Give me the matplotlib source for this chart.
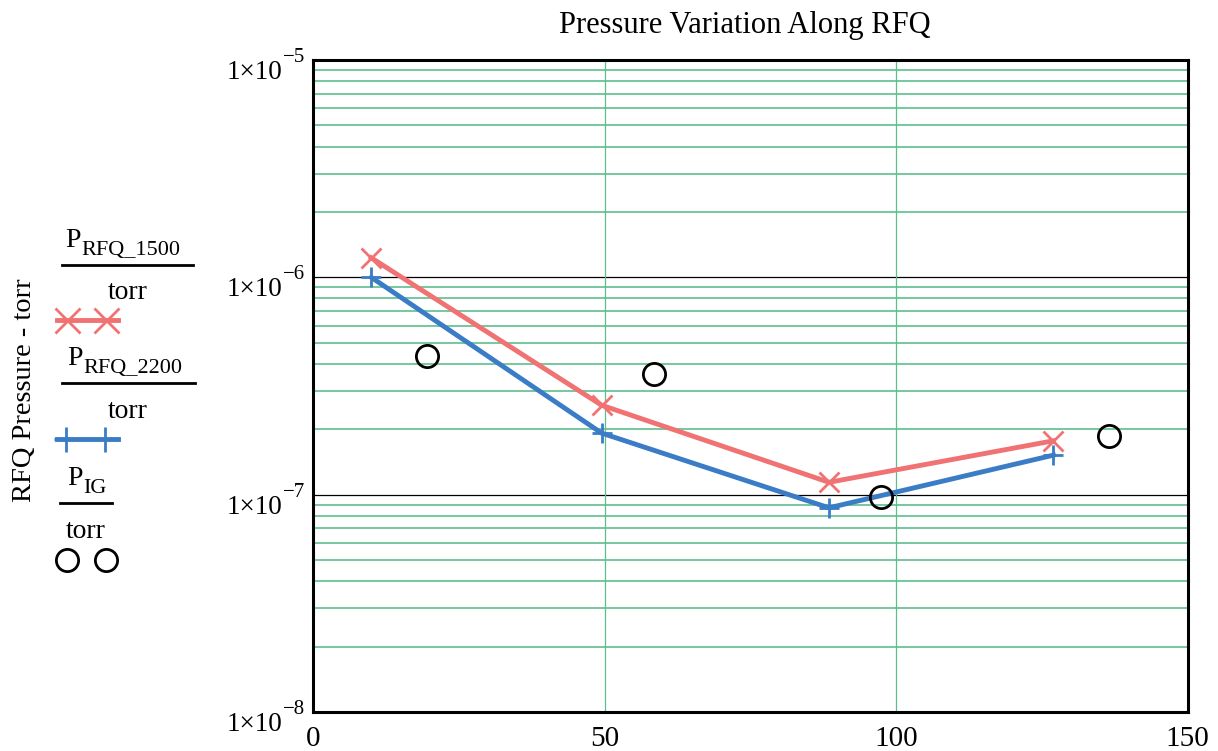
import numpy as np
import matplotlib
matplotlib.use('Agg')
import matplotlib.pyplot as plt
import matplotlib.transforms as mtransforms
from matplotlib.lines import Line2D
from matplotlib.ticker import FixedLocator, NullFormatter

plt.rcParams['font.family'] = 'Liberation Serif'

# datos
x_rfq = [10, 49.5, 88.5, 127]
p_1500 = [1.23e-6, 2.58e-7, 1.14e-7, 1.77e-7]
p_2200 = [1.0e-6, 1.92e-7, 8.7e-8, 1.52e-7]
x_ig = [19.5, 58.5, 97.5, 136.5]
p_ig = [4.35e-7, 3.6e-7, 9.8e-8, 1.86e-7]

x_ticks = [0, 50, 100, 150]
y_decades = [1e-8, 1e-7, 1e-6, 1e-5]

RED = '#f07272'
BLUE = '#3a7cc6'
GREEN = '#5dbf8c'

W, H = 1218, 751
fig = plt.figure(figsize=(W / 100, H / 100), dpi=100)
ax = fig.add_axes([0.257, 0.052, 0.718, 0.868])

ax.set_yscale('log')
ax.set_xlim(0, 150)
ax.set_ylim(1e-8, 1e-5)

# rejilla estilo Mathcad
minor = [m * d for d in y_decades[:-1] for m in range(2, 10)]
for y in minor:
    ax.axhline(y, color=GREEN, lw=1.2, zorder=1)
for y in y_decades[1:-1]:
    ax.axhline(y, color='black', lw=0.9, zorder=1)
for x in [50, 100]:
    ax.axvline(x, color=GREEN, lw=0.9, zorder=1)

ax.plot(x_rfq, p_1500, color=RED, lw=3.5, marker='x', ms=14, mew=2, zorder=3)
ax.plot(x_rfq, p_2200, color=BLUE, lw=3.5, marker='+', ms=15, mew=2, zorder=3)
ax.plot(x_ig, p_ig, ls='none', marker='o', ms=16, mfc='none', mec='black',
        mew=2, zorder=4)

ax.xaxis.set_major_locator(FixedLocator(x_ticks))
ax.set_xticklabels([str(t) for t in x_ticks])
ax.yaxis.set_major_locator(FixedLocator(y_decades))
ax.yaxis.set_major_formatter(NullFormatter())
ax.yaxis.set_minor_formatter(NullFormatter())
ax.tick_params(which='both', length=0, labelsize=21)
ax.tick_params(axis='x', pad=10)
for s in ax.spines.values():
    s.set_linewidth(2.2)

# etiquetas del eje y al estilo Mathcad: 1x10 con exponente alto
ytrans = ax.get_yaxis_transform()
for v in y_decades:
    base = mtransforms.offset_copy(ytrans, fig=fig, x=-31, y=-19, units='dots')
    expo = mtransforms.offset_copy(ytrans, fig=fig, x=-30, y=-2, units='dots')
    ax.text(0, v, '1\u00d710', transform=base, ha='right', va='baseline',
            fontsize=19.5, clip_on=False)
    ax.text(0, v, '\u2212%d' % abs(int(round(np.log10(v)))), transform=expo,
            ha='left', va='baseline', fontsize=15, clip_on=False)


def px(x, y):
    return x / W, 1 - y / H


fig.text(*px(745, 25), 'Pressure Variation Along RFQ', ha='center',
         va='center', fontsize=22)
fig.text(*px(25, 390), 'RFQ Pressure - torr', rotation=90,
         ha='center', va='center', fontsize=20.5)

# leyenda estilo Mathcad: fraccion P / torr con muestra de linea
legend = [
    ('RFQ_1500', 65, 247, (62, 193), 128),
    ('RFQ_2200', 67, 365, (62, 195), 128),
    ('IG', 67, 485, (60, 112), 86),
]
for sub, xp, yb, (x0, x1), xt in legend:
    fig.text(*px(xp, yb), 'P', ha='left', va='baseline', fontsize=20)
    fig.text(*px(xp + 16, yb + 8), sub, ha='left', va='baseline', fontsize=16)
    fig.add_artist(Line2D([x0 / W, x1 / W], [1 - (yb + 18) / H] * 2,
                          color='black', lw=2))
    fig.text(*px(xt, yb + 46), 'torr', ha='center', va='center', fontsize=20)

fig.add_artist(Line2D([57 / W, 118 / W], [1 - 320 / H] * 2, color=RED, lw=3.5))
fig.add_artist(Line2D([67 / W, 106 / W], [1 - 320 / H] * 2, lw=0, color=RED,
                      marker='x', ms=18, mew=2))
fig.add_artist(Line2D([57 / W, 118 / W], [1 - 439 / H] * 2, color=BLUE, lw=3.5))
fig.add_artist(Line2D([66 / W, 105 / W], [1 - 439 / H] * 2, lw=0, color=BLUE,
                      marker='+', ms=18, mew=2))
fig.add_artist(Line2D([67 / W, 106 / W], [1 - 560 / H] * 2, lw=0,
                      marker='o', ms=16, mfc='none', mec='black', mew=2))

fig.savefig('out.png', dpi=100)
